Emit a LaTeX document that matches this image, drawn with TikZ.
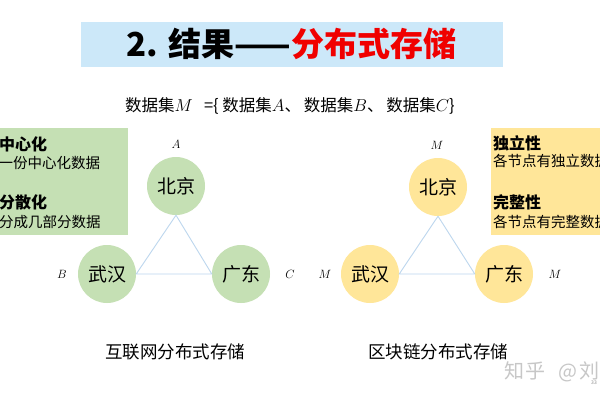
\documentclass[tikz,border=0pt]{standalone}
\usepackage{fontspec}
\setmainfont{Noto Sans CJK SC}
\newcommand\myfs[1]{\fontsize{#1}{#1}\selectfont}
\definecolor{titlebg}{HTML}{CCE8F9}
\definecolor{greenbg}{HTML}{C5E0B4}
\definecolor{yellowbg}{HTML}{FFE699}
\definecolor{edgeblue}{HTML}{BDD7EE}
\definecolor{titlered}{HTML}{F00000}
\tikzset{
  city/.style={circle, minimum size=58pt, inner sep=0pt, font=\myfs{19}},
  greencity/.style={city, fill=greenbg},
  yellowcity/.style={city, fill=yellowbg},
  link/.style={draw=edgeblue, line width=0.9pt},
  lbl/.style={inner sep=0pt, font=\myfs{12}},
  head/.style={anchor=west, inner sep=0pt, font=\myfs{16}\bfseries},
  body/.style={anchor=west, inner sep=0pt, font=\myfs{14.5}},
  caption/.style={inner sep=0pt, font=\myfs{17.5}},
}
\begin{document}
\begin{tikzpicture}[x=1pt,y=-1pt]
\useasboundingbox (0,0) rectangle (600,400);
\clip (0,0) rectangle (600,400);
\fill[white] (0,0) rectangle (600,400);
% title
\node[fill=titlebg, minimum width=422pt, minimum height=45pt, inner sep=0pt] (titlebox) at (292,44.5) {};
\node[inner sep=0pt, font=\myfs{33}\bfseries] (title) at (291.5,44) {2. 结果——\textcolor{titlered}{分布式存储}};
% subtitle
\node[inner sep=0pt, font=\myfs{16.5}] (sub) at (290,106) {数据集$M$\ \ \ =\{\ 数据集$A$、\,数据集$B$、\,数据集$C$\}};
% left box
\node[fill=greenbg, anchor=north west, minimum width=128pt, minimum height=107pt, inner sep=0pt] (lbox) at (0,128) {};
\node[head] (l1) at (-1,144) {中心化};
\node[body] (l2) at (-1.5,163) {一份中心化数据};
\node[head] (l3) at (-1,202) {分散化};
\node[body] (l4) at (-1,222) {分成几部分数据};
% right box
\node[fill=yellowbg, anchor=north west, minimum width=110pt, minimum height=107pt, inner sep=0pt] (rbox) at (491,128) {};
\node[head] (r1) at (493,143) {独立性};
\node[body] (r2) at (493,161) {各节点有独立数据};
\node[head] (r3) at (493,202) {完整性};
\node[body] (r4) at (493,222) {各节点有完整数据};
% left triangle
\node[greencity] (bj1) at (176,186) {北京};
\node[greencity] (wh1) at (107,274) {武汉};
\node[greencity] (gd1) at (241,274) {广东};
\draw[link] (bj1.south) -- (wh1.east) -- (gd1.west) -- cycle;
\node[lbl] (la) at (176,144) {$A$};
\node[lbl] (lb) at (62,274) {$B$};
\node[lbl] (lc) at (290,274) {$C$};
% right triangle
\node[yellowcity] (bj2) at (438,187) {北京};
\node[yellowcity] (wh2) at (370,274) {武汉};
\node[yellowcity] (gd2) at (504,274) {广东};
\draw[link] (bj2.south) -- (wh2.east) -- (gd2.west) -- cycle;
\node[lbl] (m1) at (437,145) {$M$};
\node[lbl] (m2) at (325,274) {$M$};
\node[lbl] (m3) at (555,274) {$M$};
% captions
\node[caption] (cap1) at (175,352) {互联网分布式存储};
\node[caption] (cap2) at (438,352) {区块链分布式存储};
% watermark
\node[anchor=west, inner sep=0pt, font=\myfs{20}, text=black!22] (wm) at (504,372) {知\hspace{1pt}乎\hspace{13pt}@\hspace{2pt}刘};
\node[inner sep=0pt, font=\myfs{5}, text=black!45] (pg) at (594,383) {33};
\end{tikzpicture}
\end{document}
